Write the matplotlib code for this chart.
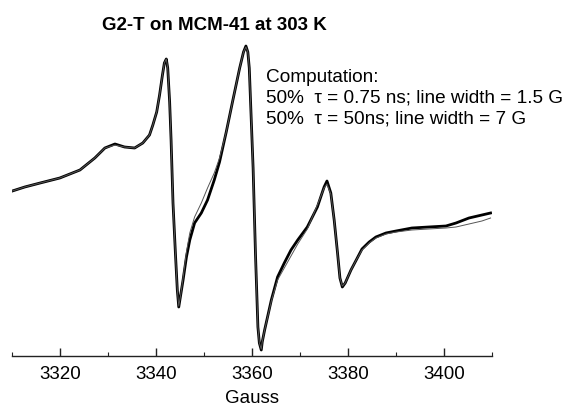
import matplotlib
matplotlib.use("Agg")
import matplotlib.pyplot as plt
from matplotlib.ticker import MultipleLocator

# Experimental spectrum (Gauss, derivative intensity in arbitrary units)
field_exp = [3310.0, 3312.6, 3315.8, 3319.9, 3324.1, 3327.2, 3329.3, 3331.4, 3333.4,
             3335.5, 3337.2, 3338.6, 3339.3, 3340.1, 3340.7, 3341.3, 3341.7, 3342.1,
             3342.4, 3342.8, 3343.1, 3343.5, 3344.0, 3344.4, 3344.7, 3345.1, 3345.6,
             3346.3, 3347.0, 3348.0, 3349.4, 3350.7, 3352.1, 3353.2, 3354.6, 3355.9,
             3357.4, 3358.2, 3358.7, 3359.1, 3359.4, 3359.8, 3360.2, 3360.7, 3361.2,
             3361.5, 3361.9, 3362.1, 3362.6, 3364.0, 3365.3, 3366.7, 3368.1, 3369.5,
             3371.5, 3373.6, 3375.0, 3375.6, 3376.4, 3377.1, 3377.8, 3378.3, 3378.8,
             3379.4, 3380.6, 3381.7, 3382.9, 3384.4, 3385.8, 3387.9, 3390.0, 3393.3,
             3396.8, 3400.4, 3402.5, 3405.2, 3407.9, 3409.7]
signal_exp = [9, 13, 17, 22, 30, 42, 52, 56, 53,
              52, 57, 65, 75, 88, 105, 125, 137, 141,
              132, 98, 60, -3, -53, -90, -107, -95, -80,
              -57, -40, -23, -13, 0, 20, 38, 68, 98,
              132, 148, 154, 148, 132, 82, 32, -55, -127,
              -143, -150, -142, -130, -100, -77, -63, -50, -40,
              -27, -7, 13, 19, 7, -20, -53, -78, -87,
              -83, -70, -60, -49, -42, -37, -33, -31, -28,
              -27, -26, -23, -18, -15, -13]

# Computed spectrum (50% tau = 0.75 ns, lw 1.5 G; 50% tau = 50 ns, lw 7 G)
field_calc = field_exp
signal_calc = [9, 13, 17, 22, 30, 42, 52, 55, 53,
               52, 57, 65, 75, 88, 105, 125, 137, 141,
               132, 98, 60, -3, -53, -90, -106, -95, -78,
               -52, -33, -17, -3, 12, 27, 42, 68, 98,
               132, 148, 153, 148, 132, 82, 32, -55, -127,
               -143, -149, -142, -130, -101, -80, -68, -56, -44,
               -29, -5, 12, 16, 6, -20, -53, -78, -86,
               -83, -70, -60, -50, -43, -38, -34, -32, -30,
               -29, -28, -27, -24, -21, -18]

xticks = [3320, 3340, 3360, 3380, 3400]
title = "G2-T on MCM-41 at 303 K"
annotation = ["Computation:",
              "50%  \u03c4 = 0.75 ns; line width = 1.5 G",
              "50%  \u03c4 = 50ns; line width = 7 G"]

plt.rcParams['font.family'] = ['Liberation Sans', 'DejaVu Sans']

fig = plt.figure(figsize=(5.68, 4.09), dpi=100)
ax = fig.add_axes([12.3 / 568, 53 / 409, 479.7 / 568, 316 / 409])

ax.plot(field_exp, signal_exp, color='black', lw=2.0, solid_joinstyle='round', zorder=2)
ax.plot(field_calc, signal_calc, color='#555555', lw=0.7, zorder=3)

ax.set_xlim(3310, 3410)
ax.set_ylim(-156, 160)

for s in ['left', 'right', 'top']:
    ax.spines[s].set_visible(False)
ax.spines['bottom'].set_linewidth(1.0)
ax.spines['bottom'].set_color('#222222')
ax.set_yticks([])
ax.set_xticks(xticks)
ax.xaxis.set_minor_locator(MultipleLocator(10))
ax.tick_params(axis='x', which='major', direction='in', length=6, width=1,
               labelsize=13.5, pad=7.5, color='#222222')
ax.tick_params(axis='x', which='minor', direction='in', length=3, width=0.8, color='#222222')
ax.set_xlabel("Gauss", fontsize=13.5, labelpad=5)

fig.text(214 / 568, 1 - 25 / 409, title, ha='center', va='center',
         fontsize=13.5, fontweight='bold')
for i, line in enumerate(annotation):
    fig.text(266 / 568, 1 - (77 + 21 * i) / 409, line, ha='left', va='center', fontsize=13.7)

fig.savefig("out.png", dpi=100)
